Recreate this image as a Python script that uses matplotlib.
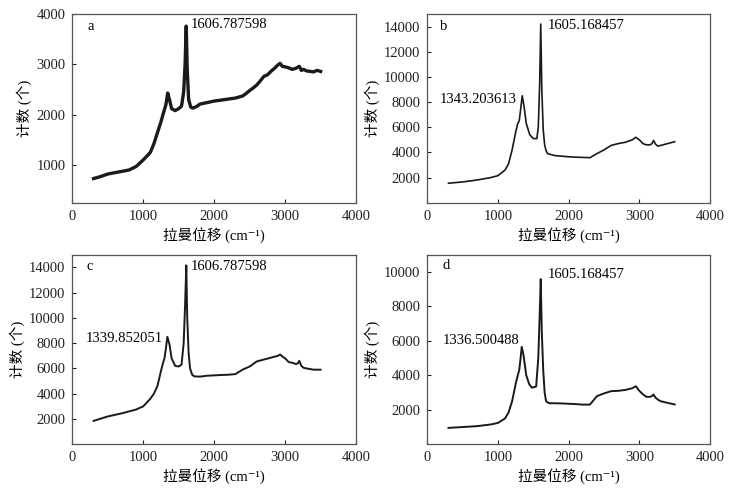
import matplotlib
matplotlib.use("Agg")
import matplotlib.pyplot as plt

plt.rcParams['font.family'] = ['Liberation Serif', 'Noto Sans CJK SC', 'DejaVu Sans']

# ---- data ----
a_x = [300, 400, 500, 650, 800, 900, 1000, 1100, 1150, 1200, 1250, 1290, 1320, 1345, 1370, 1400, 1450, 1500, 1540,
       1570, 1590, 1606, 1620, 1640, 1670, 1700, 1750, 1800, 1900, 2000, 2100, 2200, 2300, 2400, 2450, 2500, 2550,
       2600, 2650, 2700, 2750, 2800, 2850, 2900, 2930, 2960, 3000, 3050, 3100, 3150, 3200, 3230, 3260, 3300, 3350,
       3400, 3450, 3500]
a_y = [730, 770, 820, 860, 900, 970, 1100, 1250, 1420, 1640, 1860, 2060, 2200, 2430, 2300, 2120, 2080, 2120, 2170,
       2450, 3000, 3760, 2900, 2300, 2150, 2130, 2160, 2210, 2240, 2270, 2290, 2310, 2330, 2370, 2420, 2480, 2530,
       2590, 2670, 2760, 2790, 2860, 2920, 2990, 3020, 2960, 2950, 2930, 2900, 2920, 2960, 2880, 2900, 2870, 2860,
       2850, 2880, 2860]

b_x = [300, 500, 700, 900, 1000, 1100, 1150, 1200, 1250, 1280, 1300, 1320, 1343, 1370, 1400, 1450, 1500, 1550,
       1570, 1590, 1605, 1620, 1640, 1660, 1680, 1700, 1800, 1900, 2000, 2100, 2200, 2300, 2400, 2500, 2600,
       2700, 2800, 2900, 2950, 3000, 3050, 3100, 3150, 3180, 3200, 3230, 3260, 3300, 3400, 3500]
b_y = [1550, 1650, 1800, 2000, 2150, 2600, 3100, 4200, 5600, 6300, 6500, 7400, 8500, 7600, 6300, 5400, 5100, 5100,
       6000, 9500, 14200, 9000, 5800, 4600, 4150, 3900, 3750, 3700, 3650, 3620, 3600, 3580, 3900, 4200, 4550,
       4700, 4800, 5000, 5200, 5000, 4700, 4600, 4600, 4700, 4950, 4650, 4500, 4550, 4700, 4850]

c_x = [300, 500, 700, 900, 1000, 1100, 1150, 1200, 1250, 1280, 1300, 1320, 1340, 1370, 1400, 1450, 1500, 1540,
       1570, 1590, 1607, 1620, 1640, 1660, 1690, 1720, 1800, 1900, 2000, 2100, 2200, 2300, 2400, 2500, 2600,
       2700, 2800, 2900, 2930, 2970, 3000, 3050, 3100, 3150, 3180, 3200, 3230, 3260, 3300, 3400, 3500]
c_y = [1850, 2200, 2450, 2750, 3000, 3600, 4000, 4600, 5800, 6450, 6800, 7600, 8500, 7900, 6800, 6200, 6150, 6300,
       8000, 11000, 14150, 10000, 7200, 6000, 5500, 5370, 5350, 5420, 5450, 5480, 5500, 5550, 5900, 6150, 6550,
       6700, 6850, 7000, 7100, 6900, 6800, 6500, 6450, 6350, 6400, 6600, 6200, 6050, 6000, 5900, 5900]

d_x = [300, 500, 700, 900, 1000, 1100, 1150, 1200, 1250, 1280, 1300, 1320, 1336, 1360, 1400, 1440, 1480, 1540,
       1570, 1590, 1605, 1620, 1640, 1660, 1680, 1720, 1800, 1900, 2000, 2100, 2200, 2300, 2400, 2500, 2600,
       2700, 2800, 2900, 2950, 3000, 3050, 3100, 3150, 3180, 3200, 3230, 3260, 3300, 3400, 3500]
d_y = [950, 1000, 1050, 1150, 1240, 1500, 1850, 2500, 3500, 4000, 4300, 5000, 5650, 5200, 4000, 3500, 3280, 3350,
       5000, 7500, 9580, 6500, 4300, 3000, 2500, 2380, 2380, 2370, 2350, 2330, 2300, 2300, 2790, 2950, 3080,
       3100, 3150, 3250, 3370, 3100, 2900, 2750, 2750, 2800, 2890, 2700, 2600, 2500, 2400, 2310]

panel_letters = ['a', 'b', 'c', 'd']
peak_labels = [
    [('1606.787598', 1669, 3790, 'left')],
    [('1605.168457', 1698, 14100, 'left'), ('1343.203613', 1265, 8200, 'right')],
    [('1606.787598', 1669, 14070, 'left'), ('1339.852051', 1283, 8330, 'right')],
    [('1605.168457', 1703, 9830, 'left'), ('1336.500488', 1298, 5990, 'right')],
]
letter_pos = [(263, 3760), (236, 14000), (250, 14030), (265, 10350)]
ylims = [(250, 4000), (0, 15000), (0, 15000), (0, 11000)]
yticks = [[1000, 2000, 3000, 4000],
          [2000, 4000, 6000, 8000, 10000, 12000, 14000],
          [2000, 4000, 6000, 8000, 10000, 12000, 14000],
          [2000, 4000, 6000, 8000, 10000]]
xticks = [0, 1000, 2000, 3000, 4000]
xlabel_text = '拉曼位移 (cm⁻¹)'
ylabel_text = '计数 (个)'

series = [(a_x, a_y), (b_x, b_y), (c_x, c_y), (d_x, d_y)]
lws = [2.4, 1.2, 1.4, 1.4]

fig = plt.figure(figsize=(7.37, 4.92), dpi=100)
positions = [
    [0.0981, 0.5880, 0.3850, 0.3835],
    [0.5798, 0.5880, 0.3836, 0.3835],
    [0.0981, 0.0970, 0.3850, 0.3855],
    [0.5798, 0.0970, 0.3836, 0.3855],
]

for i in range(4):
    ax = fig.add_axes(positions[i])
    x, y = series[i]
    ax.plot(x, y, color='#1a1a1a', lw=lws[i])
    ax.set_xlim(0, 4000)
    ax.set_ylim(*ylims[i])
    ax.set_xticks(xticks)
    ax.set_yticks(yticks[i])
    ax.tick_params(direction='in', length=3, width=0.8, labelsize=10.5, pad=5, colors='#222222')
    for s in ax.spines.values():
        s.set_color('#555555')
        s.set_linewidth(0.9)
    ax.set_xlabel(xlabel_text, fontsize=10.5, labelpad=3)
    ax.set_ylabel(ylabel_text, fontsize=10.5, labelpad=3)
    lx, ly = letter_pos[i]
    ax.text(lx, ly, panel_letters[i], fontsize=10.5, ha='center', va='center')
    for (txt, tx, ty, ha) in peak_labels[i]:
        ax.text(tx, ty, txt, fontsize=10.5, ha=ha, va='center')

fig.savefig('out.png', dpi=100)
